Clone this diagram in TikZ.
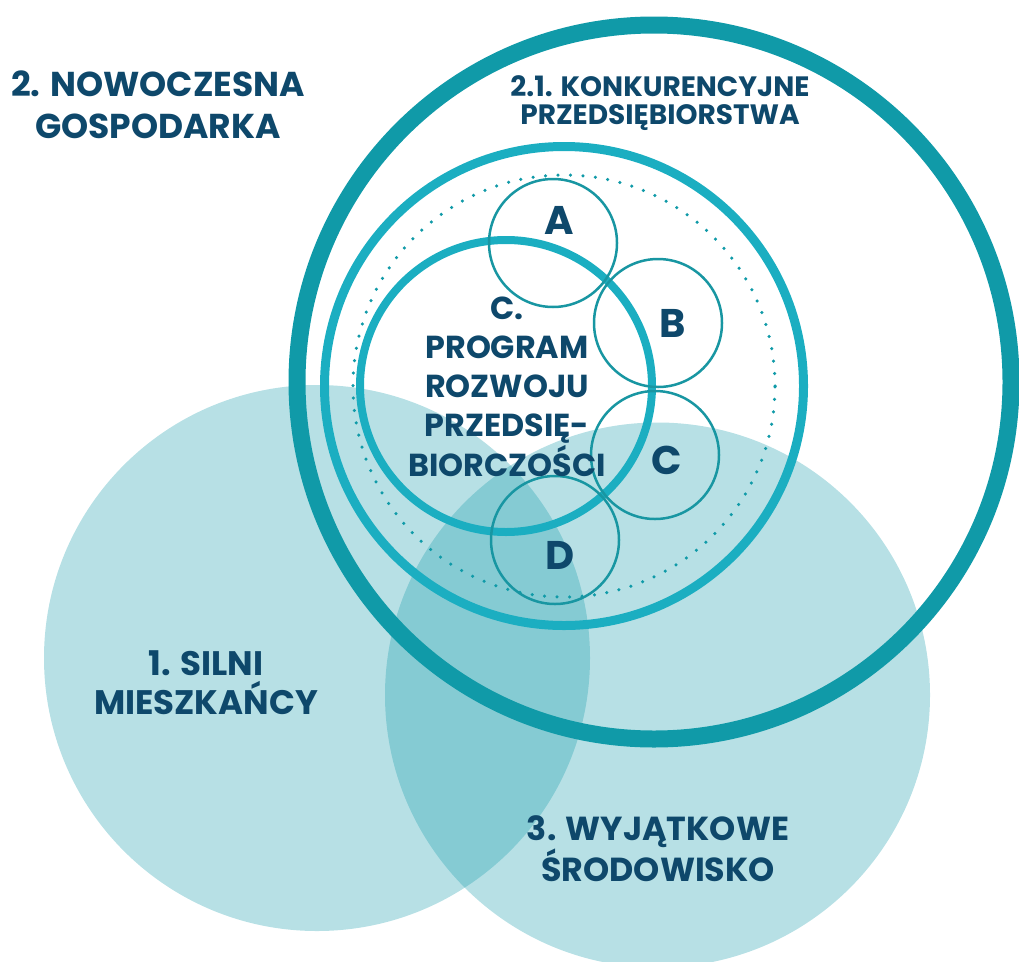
\documentclass[tikz,border=0pt]{standalone}
\usepackage{fontspec}
\setmainfont{Poppins}
\usepackage{xcolor}
\usetikzlibrary{positioning}
\definecolor{navy}{RGB}{14,72,107}
\definecolor{tealdark}{RGB}{16,154,168}
\definecolor{teallight}{RGB}{27,174,193}
\definecolor{tealthin}{RGB}{24,150,162}
\definecolor{tealfill}{RGB}{20,154,170}
\tikzstyle{area} = [shape=circle, fill=tealfill, fill opacity=0.306]

\begin{document}
\begin{tikzpicture}[x=1pt,y=-1pt,every node/.style={inner sep=0pt,outer sep=0pt},
    ring/.style={shape=circle, draw=teallight, line width=#1},
    small/.style={shape=circle, draw=tealthin, line width=2.5pt, minimum size=128pt},
    lbl/.style 2 args={text=navy, align=center, font=\bfseries\fontsize{#1}{#2}\selectfont},
    letter/.style={text=navy, font=\bfseries\fontsize{40}{40}\selectfont},]
    \clip (0,0) rectangle (1019,961);
    % create the areas
    \node (silni)[area, minimum size=546pt] at (317,658) {};
    \node (srodowisko)[area, minimum size=545pt] at (657.5,695) {};

    % create the rings
    \node (gospodarka)[shape=circle, draw=tealdark, line width=17pt, minimum size=714pt] at (654,382) {};
    \node (konkurencja)[ring=9pt, minimum size=479pt] at (564,386) {};
    \node (kropki)[shape=circle, draw=tealdark, line width=3.5pt, line cap=round, dash pattern=on 0pt off 12.5pt, minimum size=422pt] at (564,386) {};
    \node (program)[ring=8pt, minimum size=292pt] at (506,386) {};
    \node (a)[small] at (553,243) {};
    \node (b)[small] at (658,323) {};
    \node (c)[small] at (655,455) {};
    \node (d)[small] at (555,540) {};

    % create the labels
    \node (t2)[lbl={34.5}{42.5}] at (158,105) {2. NOWOCZESNA\\GOSPODARKA};
    \node (t21)[lbl={28}{28}] at (660,103) {2.1. KONKURENCYJNE\\PRZEDSIĘBIORSTWA};
    \node (t1)[lbl={34}{39}] at (206,683) {1. SILNI\\MIESZKAŃCY};
    \node (t3)[lbl={33.3}{35}] at (658,849) {3. WYJĄTKOWE\\ŚRODOWISKO};
    \node (tc)[lbl={31.8}{39.25}] at (507,386.5) {C.\\PROGRAM\\ROZWOJU\\PRZEDSIĘ-\\BIORCZOŚCI};
    \node (la)[letter] at (559,220) {A};
    \node (lb)[letter] at (673,323) {B};
    \node (lc)[letter] at (667,460) {C};
    \node (ld)[letter] at (560,555) {D};
\end{tikzpicture}
\end{document}
